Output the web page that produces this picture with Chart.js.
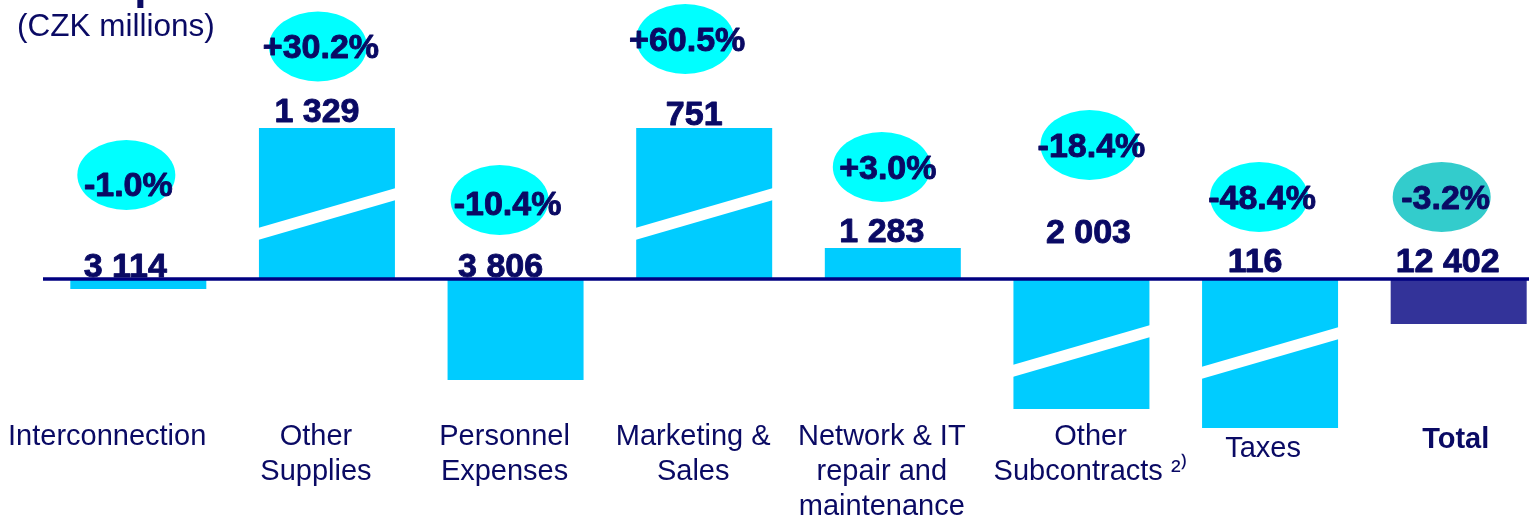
<!DOCTYPE html>
<html>
<head>
<meta charset="utf-8">
<script src="https://cdn.jsdelivr.net/npm/chart.js@4.4.0/dist/chart.umd.min.js"></script>
<style>
  html, body { margin: 0; padding: 0; background: #fff; overflow: hidden; }
  #wrap { width: 1553px; height: 523px; }
</style>
</head>
<body>
<div id="wrap"><canvas id="opex" width="1553" height="523"></canvas></div>
<script>
// categories (multi-line tick labels)
const categories = [
    ['Interconnection'],
    ['Other', 'Supplies'],
    ['Personnel', 'Expenses'],
    ['Marketing &', 'Sales'],
    ['Network & IT', 'repair and', 'maintenance'],
    ['Other', 'Subcontracts \u00B2\u207E'],
    ['Taxes'],
    ['Total']
];
// CZK millions
const amounts = [3114, 1329, 3806, 751, 1283, 2003, 116, 12402];
// y/y change, %
const changes = [-1.0, 30.2, -10.4, 60.5, 3.0, -18.4, -48.4, -3.2];
// drawn bar height (axis is broken for the big ones)
const barLevels = [-1.0, 15.1, -10.1, 15.1, 3.1, -13.0, -14.9, -4.5];
// where the white break stripe sits, null = no break
const breakLevels = [null, 6.5, null, 6.5, null, -7.2, -7.4, null];

// label placement (y scale units) and small x nudges (px)
const amountY = [0.2, 15.7, 0.2, 15.4, 3.7, 3.6, 0.7, 0.7];
const bubbleY = [10.4, 23.25, 7.9, 24.0, 11.2, 13.4, 8.2, 8.2];
const changeY = [8.3, 22.1, 6.4, 22.8, 10.0, 12.2, 7.0, 7.0];
const amountDx = [-13, -10, -15, -10, -11, 7, -15, -11];
const bubbleDx = [-12, -9, -16, -19, -11, 8, -11, -17];
const changeDx = [-10, -6, -8, -17, -5, 10, -8, -13];
// tick label nudges: <0 trailing spaces, >0 leading spaces
const tickPad = [-5, 0, 0, 0, 0, 5, 1, 2];
const tickLine = [1.2, 1.2, 1.2, 1.2, 1.2, 1.2, 2.03, 1.41];

const NAVY = '#0a0a64';
const FONT = '"Liberation Sans", Arial, Helvetica, sans-serif';

const fmtAmount = function(v) {
    return String(v).replace(/\B(?=(\d{3})+(?!\d))/g, ' ');
};
const fmtChange = function(v) {
    return (v > 0 ? '+' : '') + v.toFixed(1) + '%';
};

const decor = {
    id: 'decor',
    afterDatasetsDraw(chart) {
        const ctx = chart.ctx;
        const xs = chart.scales.x;
        const ys = chart.scales.y;
        const meta = chart.getDatasetMeta(0);
        const y0 = ys.getPixelForValue(0);

        ctx.save();

        // break stripes
        meta.data.forEach(function(bar, i) {
            if (breakLevels[i] === null) return;
            const mid = ys.getPixelForValue(breakLevels[i]);
            const l = bar.x - bar.width / 2 - 1;
            const r = bar.x + bar.width / 2 + 1;
            ctx.fillStyle = '#ffffff';
            ctx.beginPath();
            ctx.moveTo(l, mid + 20 - 6);
            ctx.lineTo(r, mid - 20 - 6);
            ctx.lineTo(r, mid - 20 + 6);
            ctx.lineTo(l, mid + 20 + 6);
            ctx.closePath();
            ctx.fill();
        });

        // zero line
        ctx.strokeStyle = '#000080';
        ctx.lineWidth = 3.5;
        ctx.beginPath();
        ctx.moveTo(43, y0);
        ctx.lineTo(chart.width, y0);
        ctx.stroke();

        // bubbles + labels
        ctx.textAlign = 'center';
        ctx.textBaseline = 'alphabetic';
        ctx.font = 'bold 34px ' + FONT;
        ctx.lineWidth = 0.9;
        ctx.lineJoin = 'round';
        categories.forEach(function(c, i) {
            const cx = xs.getPixelForValue(i);
            ctx.fillStyle = i === categories.length - 1 ? '#33cccc' : '#00ffff';
            ctx.beginPath();
            ctx.ellipse(cx + bubbleDx[i], ys.getPixelForValue(bubbleY[i]), 49, 35, 0, 0, Math.PI * 2);
            ctx.fill();

            ctx.fillStyle = NAVY;
            ctx.strokeStyle = NAVY;
            const t1 = fmtChange(changes[i]);
            const t2 = fmtAmount(amounts[i]);
            ctx.fillText(t1, cx + changeDx[i], ys.getPixelForValue(changeY[i]));
            ctx.strokeText(t1, cx + changeDx[i], ys.getPixelForValue(changeY[i]));
            ctx.fillText(t2, cx + amountDx[i], ys.getPixelForValue(amountY[i]));
            ctx.strokeText(t2, cx + amountDx[i], ys.getPixelForValue(amountY[i]));
        });

        // heading
        ctx.textAlign = 'left';
        ctx.font = '31.5px ' + FONT;
        ctx.fillText('(CZK millions)', 17, 36);
        ctx.font = 'bold 44px ' + FONT;
        ctx.fillText('Opex', 100, -1);

        ctx.restore();
    }
};

const ctx = document.getElementById('opex');
window.opexChart = new Chart(ctx, {
    type: 'bar',
    data: {
        labels: categories,
        datasets: [{
            data: barLevels,
            backgroundColor: barLevels.map(function(v, i) {
                return i === barLevels.length - 1 ? '#333399' : '#00ccff';
            }),
            borderWidth: 0,
            categoryPercentage: 1,
            barPercentage: 0.721,
            clip: false
        }]
    },
    options: {
        responsive: false,
        animation: false,
        layout: { padding: { left: 44, right: 0, top: 0, bottom: 0 } },
        plugins: {
            legend: { display: false },
            tooltip: { enabled: false }
        },
        scales: {
            x: {
                grid: { display: false, drawTicks: false },
                border: { display: false },
                afterFit: function(scale) { scale.height = 103; },
                ticks: {
                    color: NAVY,
                    padding: 0,
                    labelOffset: -11,
                    maxRotation: 0,
                    autoSkip: false,
                    callback: function(v, i) {
                        const n = tickPad[i];
                        return categories[i].map(function(s) {
                            return n < 0 ? s + ' '.repeat(-n) : ' '.repeat(n) + s;
                        });
                    },
                    font: function(c) {
                        return {
                            family: FONT,
                            size: 29,
                            lineHeight: tickLine[c.index],
                            weight: c.index === categories.length - 1 ? 'bold' : 'normal'
                        };
                    }
                }
            },
            y: {
                display: false,
                min: -14.1,
                max: 27.9
            }
        }
    },
    plugins: [decor]
});
</script>
</body>
</html>
